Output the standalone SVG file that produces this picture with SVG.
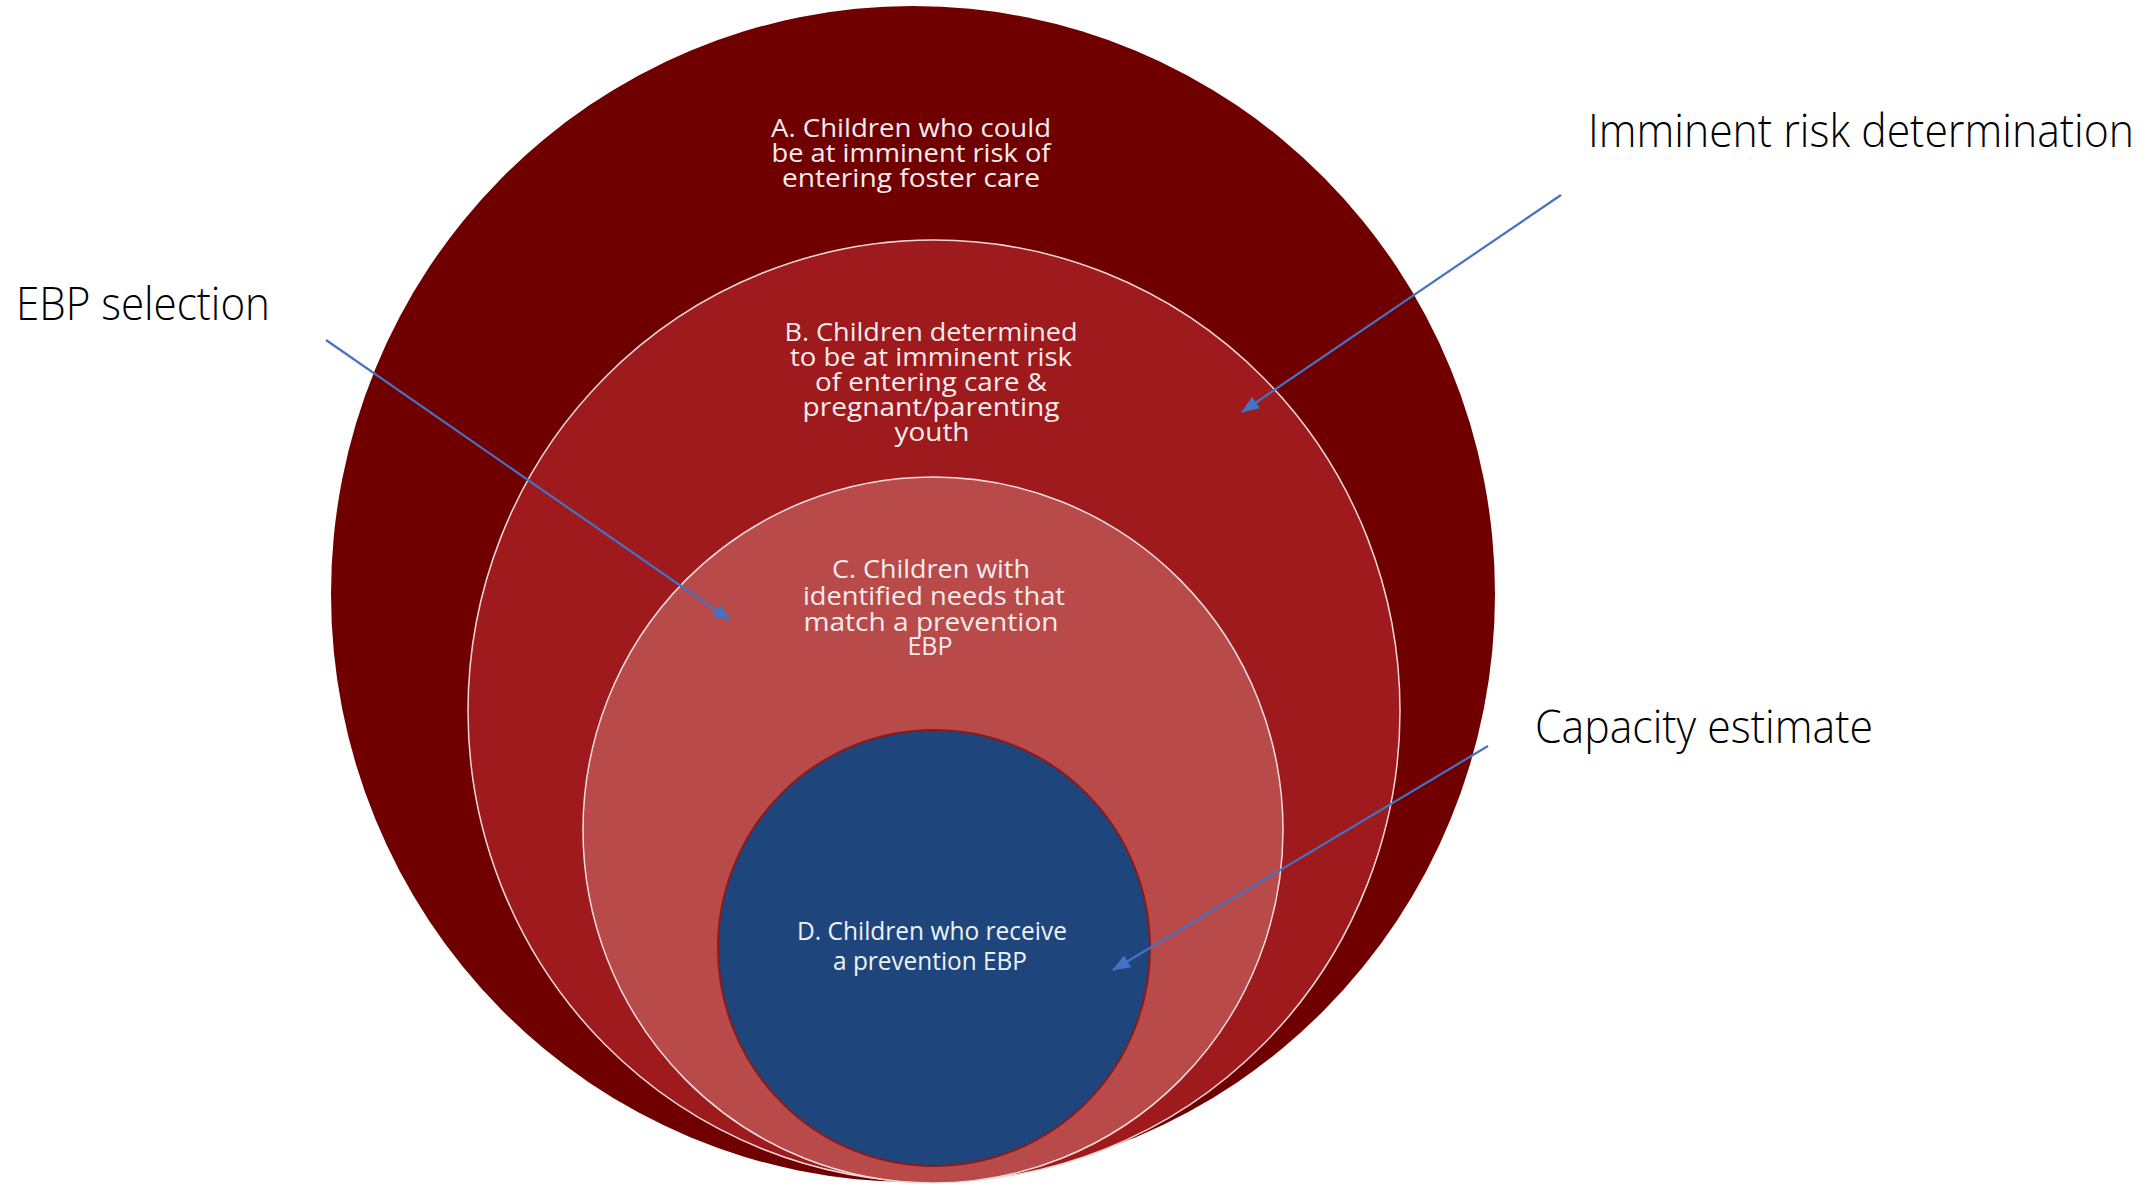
<svg xmlns="http://www.w3.org/2000/svg" width="2156" height="1186" viewBox="0 0 2156 1186">
<defs>
<style>
.lbl{font-family:"Open Sans","Liberation Sans",sans-serif;font-size:25px;fill:#f4ecec;text-anchor:middle}
.lblD{font-family:"Open Sans","Liberation Sans",sans-serif;font-size:25px;fill:#eef2f8;text-anchor:middle}
.cap{font-family:"Open Sans","Liberation Sans",sans-serif;font-weight:300;font-size:46px;fill:#000}
.arr{stroke:#4472C4;stroke-width:2.2;fill:none;marker-end:url(#ah)}
</style>
<marker id="ah" viewBox="0 0 18 14" refX="17" refY="7" markerWidth="18" markerHeight="14" markerUnits="userSpaceOnUse" orient="auto">
<path d="M0,0 L18,7 L0,14 z" fill="#4472C4"/>
</marker>
</defs>
<rect width="2156" height="1186" fill="#fff"/>
<g id="nodeA">
<ellipse cx="913" cy="594" rx="582" ry="588" fill="#700000"/>
<text class="lbl" x="911" y="137" textLength="280" lengthAdjust="spacingAndGlyphs">A. Children who could</text>
<text class="lbl" x="911" y="162" textLength="279" lengthAdjust="spacingAndGlyphs">be at imminent risk of</text>
<text class="lbl" x="911" y="187" textLength="258" lengthAdjust="spacingAndGlyphs">entering foster care</text>
</g>
<g id="nodeB">
<ellipse cx="934" cy="711" rx="466" ry="471" fill="#9E1A1C" stroke="#f0d8d8" stroke-width="1.5"/>
<text class="lbl" x="931" y="341" textLength="293" lengthAdjust="spacingAndGlyphs">B. Children determined</text>
<text class="lbl" x="931" y="366" textLength="282" lengthAdjust="spacingAndGlyphs">to be at imminent risk</text>
<text class="lbl" x="931" y="391" textLength="232" lengthAdjust="spacingAndGlyphs">of entering care &amp;</text>
<text class="lbl" x="931" y="416" textLength="257" lengthAdjust="spacingAndGlyphs">pregnant/parenting</text>
<text class="lbl" x="932" y="441" textLength="75" lengthAdjust="spacingAndGlyphs">youth</text>
</g>
<g id="nodeC">
<ellipse cx="933" cy="830" rx="350" ry="353" fill="#B84A4A" stroke="#f2dcdc" stroke-width="1.5"/>
<text class="lbl" x="931" y="578" textLength="198" lengthAdjust="spacingAndGlyphs">C. Children with</text>
<text class="lbl" x="934" y="605" textLength="262" lengthAdjust="spacingAndGlyphs">identified needs that</text>
<text class="lbl" x="931" y="631" textLength="255" lengthAdjust="spacingAndGlyphs">match a prevention</text>
<text class="lbl" x="930" y="655" textLength="45" lengthAdjust="spacingAndGlyphs">EBP</text>
</g>
<g id="nodeD">
<ellipse cx="934" cy="948" rx="216" ry="218" fill="#1F467C" stroke="#8a1a1c" stroke-width="2"/>
<text class="lblD" x="932" y="940" textLength="270" lengthAdjust="spacingAndGlyphs">D. Children who receive</text>
<text class="lblD" x="930" y="970" textLength="194" lengthAdjust="spacingAndGlyphs">a prevention EBP</text>
</g>
<g id="labels">
<text class="cap" x="1588" y="147" textLength="546" lengthAdjust="spacingAndGlyphs">Imminent risk determination</text>
<text class="cap" x="16" y="320" textLength="254" lengthAdjust="spacingAndGlyphs">EBP selection</text>
<text class="cap" x="1535" y="743" textLength="338" lengthAdjust="spacingAndGlyphs">Capacity estimate</text>
</g>
<g id="connectors">
<line class="arr" x1="1561" y1="195" x2="1242" y2="412"/>
<line class="arr" x1="326" y1="340" x2="730" y2="620"/>
<line class="arr" x1="1488" y1="746" x2="1113" y2="970"/>
</g>
</svg>
